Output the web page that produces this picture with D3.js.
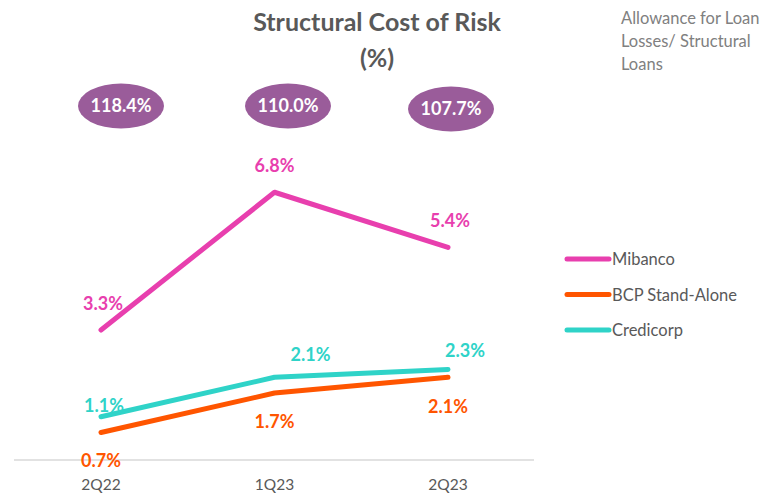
<!DOCTYPE html>
<html>
<head>
<meta charset="utf-8">
<script src="https://cdn.jsdelivr.net/npm/d3@7"></script>
<style>
  body { margin: 0; background: #fff; }
  svg { display: block; font-family: Lato, "Open Sans", sans-serif; }
</style>
</head>
<body>
<svg id="chart" width="771" height="497"></svg>
<script>
// Chart data
const quarters = ["2Q22", "1Q23", "2Q23"];
const mibanco = [3.3, 6.8, 5.4];
const bcp = [0.7, 1.7, 2.1];
const credicorp = [1.1, 2.1, 2.3];
const allowance = ["118.4%", "110.0%", "107.7%"];
const seriesNames = ["Mibanco", "BCP Stand-Alone", "Credicorp"];

const colors = {
  Mibanco: "#E83FAE",
  "BCP Stand-Alone": "#FF5500",
  Credicorp: "#2FD3C8"
};

const svg = d3.select("#chart");

const x = d3.scalePoint().domain(quarters).range([101, 448]);
const y = d3.scaleLinear().domain([0, 8]).range([460, 145]);

// Baseline axis
svg.append("line")
  .attr("x1", 14).attr("x2", 534)
  .attr("y1", y(0)).attr("y2", y(0))
  .attr("stroke", "#d9d9d9").attr("stroke-width", 1.5);

svg.selectAll("text.tick")
  .data(quarters)
  .enter()
  .append("text")
  .attr("class", "tick")
  .attr("x", (d) => x(d))
  .attr("y", 490)
  .attr("text-anchor", "middle")
  .attr("fill", "#595959")
  .attr("font-size", 15.5)
  .text((d) => d);

// Title
svg.append("text")
  .attr("x", 377).attr("y", 31)
  .attr("text-anchor", "middle")
  .attr("fill", "#595959")
  .attr("font-size", 25)
  .attr("font-weight", "bold")
  .text("Structural Cost of Risk");
svg.append("text")
  .attr("x", 377).attr("y", 67)
  .attr("text-anchor", "middle")
  .attr("fill", "#595959")
  .attr("font-size", 25)
  .attr("font-weight", "bold")
  .text("(%)");

// Allowance note
const note = ["Allowance for Loan", "Losses/ Structural", "Loans"];
svg.selectAll("text.note")
  .data(note)
  .enter()
  .append("text")
  .attr("class", "note")
  .attr("x", 621)
  .attr("y", (d, i) => 24 + i * 23)
  .attr("fill", "#808080")
  .attr("font-size", 16.5)
  .text((d) => d);

// Allowance ellipses
const ellipseCx = [121, 288, 451];
const ellipseCy = [106, 106, 109];
const ell = svg.selectAll("g.ell")
  .data(allowance)
  .enter()
  .append("g")
  .attr("class", "ell")
  .attr("transform", (d, i) => `translate(${ellipseCx[i]},${ellipseCy[i]})`);
ell.append("ellipse")
  .attr("rx", 43).attr("ry", 22.5)
  .attr("fill", "#9A5C9A");
ell.append("text")
  .attr("y", 6)
  .attr("text-anchor", "middle")
  .attr("fill", "#fff")
  .attr("font-size", 18)
  .attr("font-weight", "bold")
  .text((d) => d);

// Lines
const series = [
  { name: "Mibanco", values: mibanco },
  { name: "BCP Stand-Alone", values: bcp },
  { name: "Credicorp", values: credicorp }
];

const line = d3.line()
  .x((d, i) => x(quarters[i]))
  .y((d) => y(d));

svg.selectAll("path.series")
  .data(series)
  .enter()
  .append("path")
  .attr("class", "series")
  .attr("d", (d) => line(d.values))
  .attr("fill", "none")
  .attr("stroke", (d) => colors[d.name])
  .attr("stroke-width", 5)
  .attr("stroke-linecap", "round")
  .attr("stroke-linejoin", "round");

// Data labels (offsets relative to each point)
const labelOffsets = {
  Mibanco: [[2, -20], [0, -20], [2, -20]],
  "BCP Stand-Alone": [[0, 35], [0, 35], [0, 36]],
  Credicorp: [[3, -5], [36, -16], [17, -12]]
};

series.forEach((s) => {
  svg.selectAll(null)
    .data(s.values)
    .enter()
    .append("text")
    .attr("x", (d, i) => x(quarters[i]) + labelOffsets[s.name][i][0])
    .attr("y", (d, i) => y(d) + labelOffsets[s.name][i][1])
    .attr("text-anchor", "middle")
    .attr("fill", colors[s.name])
    .attr("font-size", 18)
    .attr("font-weight", "bold")
    .text((d) => d.toFixed(1) + "%");
});

// Legend
const legend = svg.selectAll("g.legend")
  .data(seriesNames)
  .enter()
  .append("g")
  .attr("class", "legend")
  .attr("transform", (d, i) => `translate(567,${259 + i * 35.5})`);
legend.append("line")
  .attr("x1", 0).attr("x2", 42)
  .attr("stroke", (d) => colors[d])
  .attr("stroke-width", 5)
  .attr("stroke-linecap", "round");
legend.append("text")
  .attr("x", 45).attr("y", 6)
  .attr("fill", "#595959")
  .attr("font-size", 16.5)
  .text((d) => d);
</script>
</body>
</html>
